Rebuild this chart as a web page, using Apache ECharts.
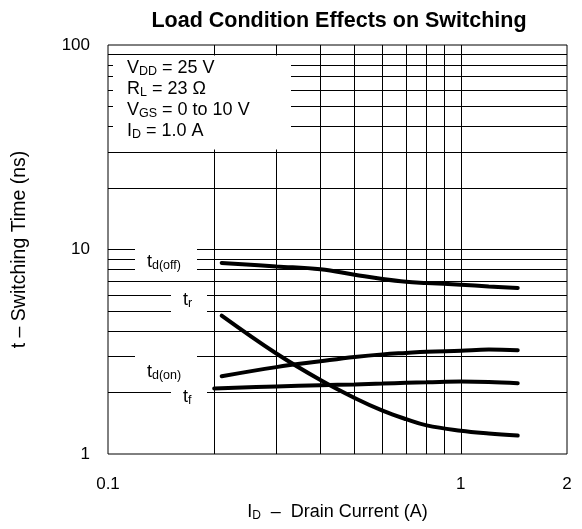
<!DOCTYPE html>
<html>
<head>
<meta charset="utf-8">
<script src="https://cdn.jsdelivr.net/npm/echarts@6/dist/echarts.min.js"></script>
<style>
html, body { margin: 0; padding: 0; background: #fff; }
#main { width: 582px; height: 529px; }
</style>
</head>
<body>
<div id="main"></div>
<script>
// 漏极电流 (A)
var currentA = [0.21, 0.3, 0.4, 0.5, 0.6, 0.7, 0.8, 1.0, 1.2, 1.45];
var currentF = [0.2, 0.3, 0.4, 0.5, 0.6, 0.7, 0.8, 1.0, 1.2, 1.45];
// 开关时间 (ns)
var tdOff = [8.6, 8.26, 8.0, 7.53, 7.17, 6.95, 6.86, 6.73, 6.6, 6.49];
var tR = [4.75, 3.1, 2.3, 1.88, 1.63, 1.48, 1.38, 1.3, 1.26, 1.23];
var tdOn = [2.4, 2.66, 2.84, 2.98, 3.07, 3.12, 3.16, 3.2, 3.24, 3.22];
var tF = [2.09, 2.14, 2.17, 2.19, 2.21, 2.23, 2.24, 2.26, 2.25, 2.22];
// 网格线
var gridX = [0.2, 0.3, 0.4, 0.5, 0.6, 0.7, 0.8, 0.9, 1];
var gridY = [2, 3, 4, 5, 6, 7, 8, 9, 10, 20, 30, 40, 50, 60, 70, 80, 90];

var FONT = "'Liberation Sans', Arial, sans-serif";
var rich = {
    n: { fontSize: 18, fontFamily: FONT, color: '#000', lineHeight: 21 },
    s: { fontSize: 12.5, fontFamily: FONT, color: '#000', lineHeight: 10, verticalAlign: 'bottom' }
};

function pairs(xs, ys) {
    return xs.map(function (x, i) { return [x, ys[i]]; });
}

function curve(name, xs, ys) {
    return {
        name: name,
        type: 'line',
        data: pairs(xs, ys),
        smooth: 0.4,
        symbol: 'none',
        z: 10,
        lineStyle: { color: '#000', width: 4, cap: 'round' }
    };
}

var gridLines = gridX.map(function (v) { return { xAxis: v }; })
    .concat(gridY.map(function (v) { return { yAxis: v }; }));

//白底标签
function labelBox(x, y, w, h) {
    return { type: 'rect', z: 6, silent: true, shape: { x: x, y: y, width: w, height: h }, style: { fill: '#fff' } };
}
function labelText(x, y, txt) {
    return {
        type: 'text', z: 7, silent: true, x: x, y: y,
        style: { text: txt, rich: rich, verticalAlign: 'middle', align: 'left' }
    };
}

var myChart = echarts.init(document.getElementById('main'));
var option = {
    backgroundColor: '#fff',
    animation: false,
    title: {
        text: 'Load Condition Effects on Switching',
        left: 334, top: 5, textAlign: 'center',
        textStyle: { fontFamily: FONT, fontWeight: 'bold', fontSize: 21.5, color: '#000' }
    },
    grid: {
        left: 108, right: 15, top: 45, bottom: 75,
        show: true, borderColor: '#000', borderWidth: 1, backgroundColor: 'transparent'
    },
    xAxis: {
        type: 'log', logBase: 10, min: 0.1, max: 2,
        axisLine: { show: false }, axisTick: { show: false }, splitLine: { show: false },
        axisLabel: { fontFamily: FONT, fontSize: 17, color: '#000', margin: 22, showMaxLabel: true, showMinLabel: true },
        name: '{n|I}{s|D}{n|  –  Drain Current (A)}',
        nameLocation: 'middle', nameGap: 48,
        nameTextStyle: { rich: { n: { fontSize: 18, fontFamily: FONT, color: '#000', lineHeight: 20 }, s: { fontSize: 12, fontFamily: FONT, color: '#000', lineHeight: 9, verticalAlign: 'bottom' } } }
    },
    yAxis: {
        type: 'log', logBase: 10, min: 1, max: 100,
        axisLine: { show: false }, axisTick: { show: false }, splitLine: { show: false },
        axisLabel: { fontFamily: FONT, fontSize: 17, color: '#000', margin: 18 },
        name: 't – Switching Time (ns)',
        nameLocation: 'middle', nameGap: 78, nameRotate: 90,
        nameTextStyle: { fontFamily: FONT, fontSize: 19.5, color: '#000' }
    },
    graphic: [
        labelBox(113, 55.5, 178, 94),
        {
            type: 'text', z: 7, silent: true, x: 127, y: 57.5,
            style: {
                text: '{n|V}{s|DD}{n| = 25 V}\n{n|R}{s|L}{n| = 23 Ω}\n{n|V}{s|GS}{n| = 0 to 10 V}\n{n|I}{s|D}{n| = 1.0 A}',
                rich: rich, verticalAlign: 'top', align: 'left'
            }
        },
        labelBox(135, 246, 62, 28),
        labelText(147, 262, '{n|t}{s|d(off)}'),
        labelBox(171, 285, 36, 34),
        labelText(183, 300, '{n|t}{s|r}'),
        labelBox(135, 344, 62, 42),
        labelText(147, 372, '{n|t}{s|d(on)}'),
        labelBox(171, 387, 36, 24),
        labelText(183, 397, '{n|t}{s|f}')
    ],
    series: [
        {
            name: 'grid',
            type: 'line',
            data: [],
            silent: true,
            markLine: {
                silent: true,
                symbol: 'none',
                label: { show: false },
                lineStyle: { color: '#000', width: 1, type: 'solid' },
                emphasis: { disabled: true },
                data: gridLines
            }
        },
        curve('td(off)', currentA, tdOff),
        curve('tr', currentA, tR),
        curve('td(on)', currentA, tdOn),
        curve('tf', currentF, tF)
    ]
};
myChart.setOption(option, true);
</script>
</body>
</html>
